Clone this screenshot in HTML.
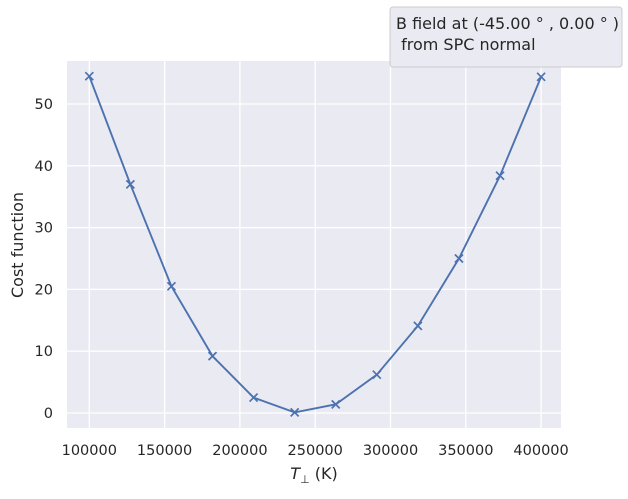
<!DOCTYPE html>
<html><head><meta charset="utf-8"><style>
body{margin:0;background:#fff;}
svg text{font-family:"DejaVu Sans","Liberation Sans",sans-serif;fill:#262626;}
</style></head><body>
<svg id="chart" width="628" height="494" xmlns="http://www.w3.org/2000/svg">
<rect x="67" y="61" width="494" height="367" fill="#eaeaf2"/>
<g id="grid"></g>
<g id="ticks"></g>
<polyline id="line" fill="none" stroke="#4c72b0" stroke-width="1.9"/>
<g id="marks"></g>
<text x="314" y="479" font-size="16" text-anchor="middle"><tspan font-style="italic">T</tspan><tspan font-size="11" dy="4">⊥</tspan><tspan dy="-4"> (K)</tspan></text>
<text transform="translate(23,245) rotate(-90)" font-size="16" text-anchor="middle">Cost function</text>
<g>
<rect x="390" y="7" width="232" height="60" rx="3" fill="#eaeaf2" stroke="#cccccc"/>
<text x="396" y="29" font-size="16">B field at (-45.00 ° , 0.00 ° )</text>
<text x="396" y="50" font-size="16">&#160;from SPC normal</text>
</g>
</svg>
<script>
const xValues=[100000,127273,154545,181818,209091,236364,263636,290909,318182,345455,372727,400000];
const costValues=[54.5,37,20.5,9.2,2.5,0.1,1.4,6.2,14.1,25,38.4,54.4];
const xTicks=[100000,150000,200000,250000,300000,350000,400000];
const yTicks=[0,10,20,30,40,50];
const NS="http://www.w3.org/2000/svg";
function sx(v){return 89.3+(v-100000)*(75.3/50000);}
function sy(v){return 413-v*6.18;}
const grid=document.getElementById('grid'),ticks=document.getElementById('ticks'),marks=document.getElementById('marks');
xTicks.forEach(t=>{
 const l=document.createElementNS(NS,'line');
 
 
 l.setAttribute('x1',sx(t));l.setAttribute('x2',sx(t));l.setAttribute('y1',61);l.setAttribute('y2',428);
 l.setAttribute('stroke','#fff');l.setAttribute('stroke-width','1.3');grid.appendChild(l);
 const tx=document.createElementNS(NS,'text');
 
 
 tx.setAttribute('x',sx(t));tx.setAttribute('y',455);tx.setAttribute('font-size','14.5');tx.setAttribute('text-anchor','middle');
 tx.textContent=t;ticks.appendChild(tx);
});
yTicks.forEach(t=>{
 const l=document.createElementNS(NS,'line');
 
 
 l.setAttribute('x1',67);l.setAttribute('x2',561);l.setAttribute('y1',sy(t));l.setAttribute('y2',sy(t));
 l.setAttribute('stroke','#fff');l.setAttribute('stroke-width','1.3');grid.appendChild(l);
 const tx=document.createElementNS(NS,'text');
 
 
 tx.setAttribute('x',53);tx.setAttribute('y',sy(t)+5);tx.setAttribute('font-size','14.5');tx.setAttribute('text-anchor','end');
 tx.textContent=t;ticks.appendChild(tx);
});
document.getElementById('line').setAttribute('points',xValues.map((x,i)=>sx(x)+','+sy(costValues[i])).join(' '));
xValues.forEach((x,i)=>{
 const cx=sx(x),cy=sy(costValues[i]),d=4;
 const p=document.createElementNS(NS,'path');
 
 
 p.setAttribute('d',`M${cx-d},${cy-d}L${cx+d},${cy+d}M${cx-d},${cy+d}L${cx+d},${cy-d}`);
 p.setAttribute('stroke','#4c72b0');p.setAttribute('stroke-width','1.7');marks.appendChild(p);
});
</script>
</body></html>
